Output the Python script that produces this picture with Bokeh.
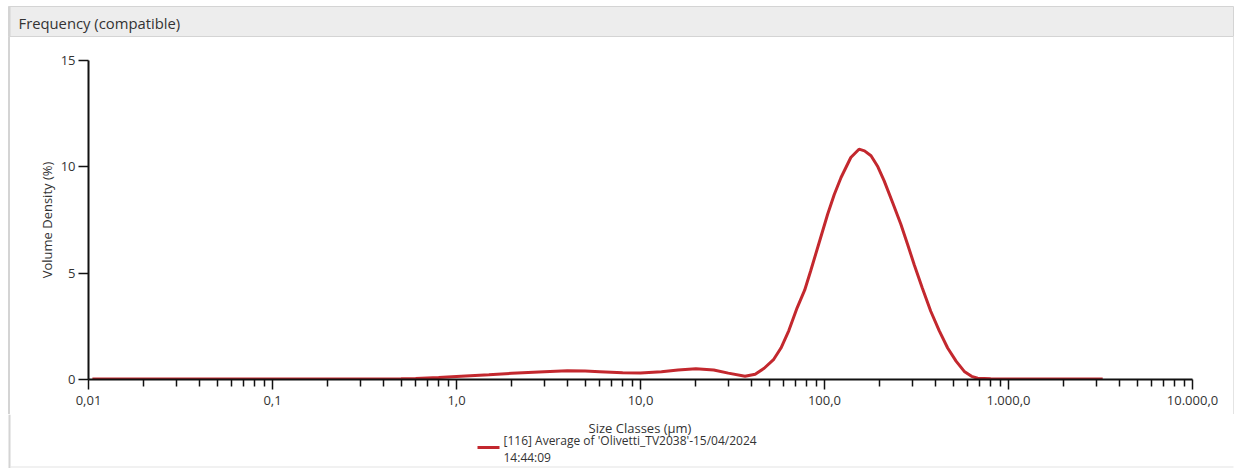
from bokeh.plotting import figure
from bokeh.models import FixedTicker, Range1d, Spacer
from bokeh.layouts import column, row
from bokeh.core.properties import value
from bokeh.embed import file_html
from bokeh.resources import INLINE

# ---- data ----
sizes = [0.0105, 0.05, 0.3, 0.5, 0.6, 0.8, 1.0, 1.5, 2.0, 3.0, 4.0, 5.0, 6.0, 8.0,
         10.0, 13.0, 16.0, 20.0, 25.0, 30.0, 37.0, 42.0, 47.0, 53.0, 58.0, 64.0,
         71.0, 78.0, 84.0, 94.0, 104.0, 113.0, 123.0, 139.0, 154.0, 165.0, 179.0,
         195.0, 211.0, 235.0, 260.0, 283.0, 307.0, 340.0, 378.0, 420.0, 467.0,
         520.0, 575.0, 630.0, 680.0, 800.0, 1000.0, 3250.0]
volume = [0.02, 0.02, 0.02, 0.03, 0.05, 0.09, 0.14, 0.22, 0.29, 0.37, 0.41, 0.40,
          0.37, 0.32, 0.30, 0.36, 0.45, 0.50, 0.45, 0.30, 0.15, 0.25, 0.53, 0.95,
          1.48, 2.30, 3.37, 4.20, 5.09, 6.50, 7.77, 8.70, 9.50, 10.44, 10.83, 10.75,
          10.52, 10.00, 9.34, 8.30, 7.30, 6.35, 5.41, 4.30, 3.21, 2.30, 1.48, 0.85,
          0.38, 0.15, 0.06, 0.03, 0.02, 0.02]

x_ticks = [0.01, 0.1, 1.0, 10.0, 100.0, 1000.0, 10000.0]
x_tick_labels = ["0,01", "0,1", "1,0", "10,0", "100,0", "1.000,0", "10.000,0"]
y_ticks = [0, 5, 10, 15]

header_text = "Frequency (compatible)"
x_title = "Size Classes (\u00b5m)"
y_title = "Volume Density (%)"
legend_line1 = "[116] Average of 'Olivetti_TV2038'-15/04/2024"
legend_line2 = "14:44:09"

FONT = "Open Sans"
RED = "#c3282e"
TEXT = "#333333"
BORDER = "#d4d4d4"
FAINT = "#e4e4e4"

HDR_H = 37
MAIN_H = 377
LEG_H = 468 - HDR_H - MAIN_H

minor = []
for k in range(-2, 4):
    for m in range(2, 10):
        minor.append(m * 10.0 ** k)


def deco(width, height, fill="white"):
    f = figure(width=width, height=height,
               x_range=Range1d(0, width), y_range=Range1d(height, 0),
               output_backend="svg", toolbar_location=None,
               x_axis_location=None, y_axis_location=None,
               min_border=0, min_border_left=0, min_border_right=0,
               min_border_top=0, min_border_bottom=0)
    f.xgrid.visible = False
    f.ygrid.visible = False
    f.outline_line_color = None
    f.background_fill_color = fill
    f.border_fill_color = fill
    return f


# ---- header strip ----
hdr = deco(1236, HDR_H)
hdr.quad(left=[8], right=[1233], top=[6], bottom=[36],
         fill_color="#ededed", line_color=BORDER, line_width=1)
hdr.quad(left=[8], right=[10], top=[6], bottom=[HDR_H],
         fill_color=BORDER, line_color=None)
hdr.text(x=[18], y=[22], text=[header_text], text_font=value(FONT),
         text_font_size="14.8px", text_color=TEXT, text_baseline="middle")

# ---- main chart (placed 1px from the left edge) ----
panel_bg = ("linear-gradient(to right, #ffffff 0px, #ffffff 7px, "
            f"{BORDER} 7px, {BORDER} 9px, #ffffff 9px, #ffffff 1232px, "
            f"{FAINT} 1232px, {FAINT} 1233px, #ffffff 1233px)")
p = figure(width=1235, height=MAIN_H, x_axis_type="log",
           x_range=Range1d(0.01, 10000), y_range=Range1d(0, 15),
           output_backend="svg", toolbar_location=None,
           min_border_left=87, min_border_right=44,
           min_border_top=23, min_border_bottom=MAIN_H - 23 - 319,
           styles={"background": panel_bg})
p.xgrid.visible = False
p.ygrid.visible = False
p.outline_line_color = None
p.background_fill_color = "white"
p.border_fill_color = None

p.line(sizes, volume, line_color=RED, line_width=3)

xa = p.xaxis[0]
xa.ticker = FixedTicker(ticks=x_ticks, minor_ticks=minor)
xa.major_label_overrides = {t: l for t, l in zip(x_ticks, x_tick_labels)}
ya = p.yaxis[0]
ya.ticker = FixedTicker(ticks=y_ticks)
ya.axis_label = y_title

for ax in (xa, ya):
    ax.axis_line_color = "#111111"
    ax.axis_line_width = 2
    ax.major_tick_line_color = "#111111"
    ax.major_tick_line_width = 1.5
    ax.major_tick_in = 0
    ax.major_tick_out = 10
    ax.minor_tick_line_color = "#111111"
    ax.minor_tick_line_width = 1.5
    ax.minor_tick_in = 0
    ax.minor_tick_out = 7
    ax.major_label_text_font = FONT
    ax.major_label_text_font_size = "13px"
    ax.major_label_text_color = TEXT
    ax.axis_label_text_font = FONT
    ax.axis_label_text_font_size = "13px"
    ax.axis_label_text_font_style = "normal"
    ax.axis_label_text_color = TEXT

ya.minor_tick_line_color = None
xa.major_label_standoff = 6
ya.major_label_standoff = 3
ya.axis_label_standoff = 2

# ---- axis title + legend strip ----
off = HDR_H + MAIN_H
leg = deco(1236, LEG_H)
leg.quad(left=[8], right=[10], top=[0], bottom=[LEG_H], fill_color=BORDER, line_color=None)
leg.quad(left=[10], right=[1233], top=[LEG_H - 2], bottom=[LEG_H - 1], fill_color=FAINT, line_color=None)
leg.text(x=[639.5], y=[427 - off], text=[x_title],
         text_font=value(FONT), text_font_size="13px", text_color=TEXT,
         text_baseline="middle", text_align="center")
leg.segment(x0=[477], y0=[447 - off], x1=[499], y1=[447 - off],
            line_color=RED, line_width=3)
leg.text(x=[503, 503], y=[440 - off, 457 - off],
         text=[legend_line1, legend_line2],
         text_font=value(FONT), text_font_size="12px", text_color=TEXT,
         text_baseline="middle")

body = row(Spacer(width=1, height=MAIN_H), p)
layout = column(hdr, body, leg)
open("out.html", "w").write(file_html(layout, INLINE))
